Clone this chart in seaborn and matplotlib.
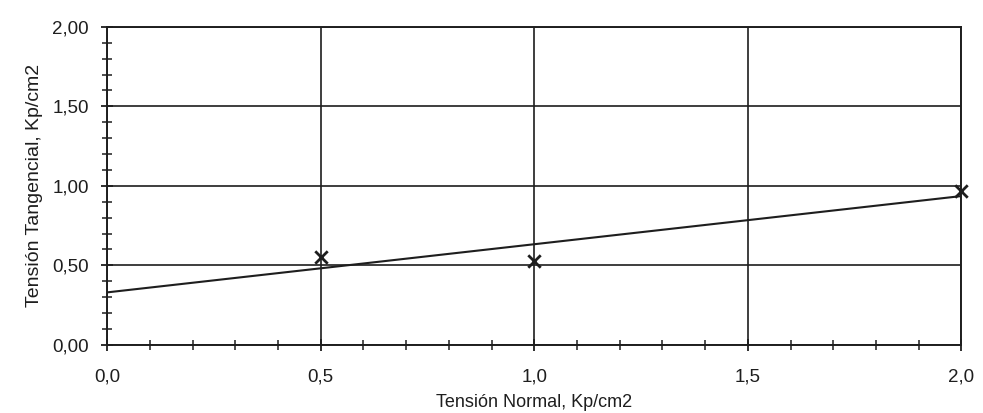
import numpy as np
import pandas as pd
import matplotlib
matplotlib.use('Agg')
import matplotlib.pyplot as plt
from matplotlib.ticker import MultipleLocator, FuncFormatter
import seaborn as sns

# ── Data ─────────────────────────────────────────────────────────────────────
tension_normal     = [0.5, 1.0, 2.0]      # Kp/cm2
tension_tangencial = [0.55, 0.53, 0.97]   # Kp/cm2
df = pd.DataFrame({'normal': tension_normal, 'tangencial': tension_tangencial})

# ── Style ────────────────────────────────────────────────────────────────────
sns.set_style('white')
plt.rcParams['font.family'] = ['Liberation Sans', 'DejaVu Sans']
ink = '#1e1e1e'

fig = plt.figure(figsize=(9.83, 4.13), dpi=100)
ax = fig.add_axes([0.109, 0.165, 0.869, 0.770])
ax.set_xlim(0, 2)
ax.set_ylim(0, 2)

# trend line (least squares) extended over the whole x range
sns.regplot(data=df, x='normal', y='tangencial', ax=ax, scatter=False, ci=None,
            truncate=False, line_kws={'color': ink, 'linewidth': 1.5})
sns.scatterplot(data=df, x='normal', y='tangencial', ax=ax, marker='x', s=80,
                color=ink, linewidth=2.0, zorder=5, clip_on=False)
ax.set_xlim(0, 2)
ax.set_ylim(0, 2)

# ── Axes / ticks ─────────────────────────────────────────────────────────────
ax.xaxis.set_major_locator(MultipleLocator(0.5))
ax.xaxis.set_minor_locator(MultipleLocator(0.1))
ax.yaxis.set_major_locator(MultipleLocator(0.5))
ax.yaxis.set_minor_locator(MultipleLocator(0.1))
ax.xaxis.set_major_formatter(FuncFormatter(lambda v, p: f'{v:.1f}'.replace('.', ',')))
ax.yaxis.set_major_formatter(FuncFormatter(lambda v, p: f'{v:.2f}'.replace('.', ',')))

ax.grid(True, which='major', color=ink, linewidth=1.2)
for s in ax.spines.values():
    s.set_color(ink)
    s.set_linewidth(1.4)

ax.tick_params(which='major', direction='inout', length=8, width=1.3,
               colors=ink, labelsize=13.5, left=True, bottom=True)
ax.tick_params(which='minor', direction='inout', length=7, width=1.1,
               colors=ink, left=True, bottom=True)
ax.tick_params(axis='x', which='major', pad=13)
ax.tick_params(axis='y', which='major', pad=9)

ax.set_xlabel('Tensión Normal, Kp/cm2', fontsize=13, color=ink, labelpad=6)
ax.set_ylabel('Tensión Tangencial, Kp/cm2', fontsize=14, color=ink, labelpad=7)

fig.savefig('out.png', dpi=100, facecolor='white')
